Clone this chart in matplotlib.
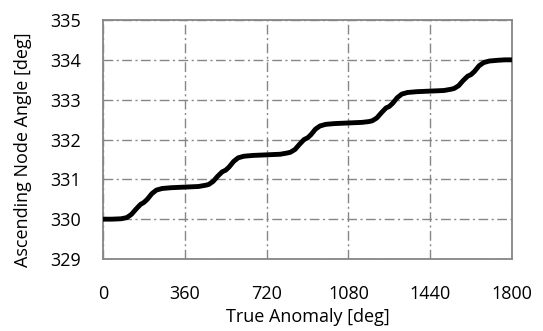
import matplotlib
matplotlib.use("Agg")
import matplotlib.pyplot as plt

# True anomaly [deg] and ascending node angle [deg] along the propagated orbit
true_anomaly = [
    0, 40, 80, 105, 125, 145, 165, 180, 195, 215, 235, 260, 300, 340,
    380, 420, 450, 465, 485, 505, 525, 540, 555, 575, 595, 620, 660, 700,
    740, 780, 810, 825, 845, 865, 885, 900, 915, 935, 955, 980, 1020, 1060,
    1100, 1140, 1170, 1185, 1205, 1225, 1245, 1260, 1275, 1295, 1315, 1340, 1380, 1420,
    1460, 1500, 1530, 1545, 1565, 1585, 1605, 1620, 1635, 1655, 1675, 1700, 1740, 1770, 1800,
]
node_angle = [
    330.00, 330.00, 330.01, 330.04, 330.12, 330.25, 330.37, 330.42, 330.50, 330.64, 330.73, 330.77, 330.79, 330.80,
    330.81, 330.82, 330.85, 330.87, 330.95, 331.08, 331.19, 331.23, 331.31, 331.45, 331.54, 331.58, 331.60, 331.61,
    331.62, 331.63, 331.66, 331.68, 331.75, 331.88, 332.00, 332.04, 332.12, 332.26, 332.34, 332.38, 332.40, 332.41,
    332.42, 332.43, 332.45, 332.47, 332.54, 332.67, 332.79, 332.83, 332.91, 333.05, 333.14, 333.18, 333.20, 333.21,
    333.22, 333.23, 333.26, 333.28, 333.35, 333.48, 333.59, 333.63, 333.71, 333.85, 333.93, 333.97, 333.99, 334.00, 334.00,
]

x_ticks = [0, 360, 720, 1080, 1440, 1800]
y_ticks = [329, 330, 331, 332, 333, 334, 335]

plt.rcParams['font.family'] = ['Open Sans', 'DejaVu Sans']
FS = 13

fig = plt.figure(figsize=(5.43, 3.31), dpi=100)
ax = fig.add_axes([103 / 543, 1 - 259 / 331, 409 / 543, 239 / 331])

grid_color = '#868686'
ax.set_xlim(0, 1800)
ax.set_ylim(329, 335)
ax.set_xticks(x_ticks)
ax.set_yticks(y_ticks)
ax.grid(True, color=grid_color, linestyle=(0, (7, 2.5, 1.5, 2.5)), linewidth=1.0)
ax.set_axisbelow(True)

ax.plot(true_anomaly, node_angle, color='black', linewidth=3.5,
        solid_capstyle='butt', clip_on=False, zorder=3)

for s in ax.spines.values():
    s.set_color(grid_color)
    s.set_linewidth(1.3)

ax.tick_params(axis='both', length=0, labelsize=FS, colors='black')
ax.tick_params(axis='x', pad=19)
ax.tick_params(axis='y', pad=16)

ax.set_xlabel('True Anomaly [deg]', fontsize=FS, va='center')
ax.xaxis.set_label_coords(0.5, (259 - 317) / 239)
ax.set_ylabel('Ascending Node Angle [deg]', fontsize=FS, va='center')
ax.yaxis.set_label_coords((23 - 103) / 409, 0.456)

fig.savefig('out.png', dpi=100)
